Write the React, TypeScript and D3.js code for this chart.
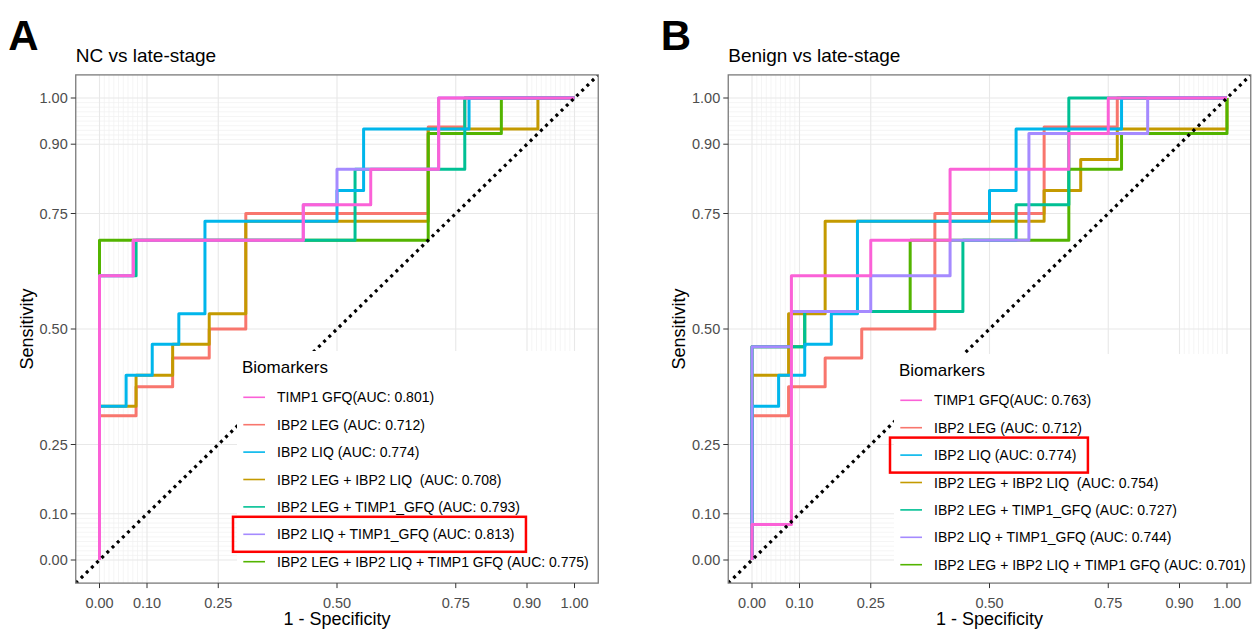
import React, { useEffect, useRef } from 'react';
import * as d3 from 'd3';

type Pt = [number, number];

// axis breaks shared by both panels
const tickValues = [0, 0.1, 0.25, 0.5, 0.75, 0.9, 1];
const tickLabels = ['0.00', '0.10', '0.25', '0.50', '0.75', '0.90', '1.00'];
const minorValues = [
  0.01, 0.02, 0.03, 0.04, 0.05, 0.06, 0.07, 0.08, 0.09,
  0.91, 0.92, 0.93, 0.94, 0.95, 0.96, 0.97, 0.98, 0.99,
];

// series keys in drawing order (alphabetical factor levels, ggplot hue palette)
const drawKeys = ['LEG', 'LEG_LIQ', 'LEG_LIQ_TIMP1', 'LEG_TIMP1', 'LIQ', 'LIQ_TIMP1', 'TIMP1'];
const drawColors = ['#F8766D', '#C49A00', '#53B400', '#00C094', '#00B6EB', '#A58AFF', '#FB61D7'];

// legend order and names
const legendKeys = ['TIMP1', 'LEG', 'LIQ', 'LEG_LIQ', 'LEG_TIMP1', 'LIQ_TIMP1', 'LEG_LIQ_TIMP1'];
const legendNames = [
  'TIMP1 GFQ',
  'IBP2 LEG ',
  'IBP2 LIQ ',
  'IBP2 LEG + IBP2 LIQ  ',
  'IBP2 LEG + TIMP1_GFQ ',
  'IBP2 LIQ + TIMP1_GFQ ',
  'IBP2 LEG + IBP2 LIQ + TIMP1 GFQ ',
];
const aucA = ['0.801', '0.712', '0.774', '0.708', '0.793', '0.813', '0.775'];
const aucB = ['0.763', '0.712', '0.774', '0.754', '0.727', '0.744', '0.701'];

// ROC curves, points are [1 - specificity, sensitivity]
// Panel A: NC vs late-stage
const rocA_TIMP1: Pt[] = [[0, 0], [0, 0.615], [0.071, 0.615], [0.071, 0.692], [0.429, 0.692], [0.429, 0.769], [0.571, 0.769], [0.571, 0.846], [0.714, 0.846], [0.714, 1], [1, 1]];
const rocA_LEG: Pt[] = [[0, 0], [0, 0.3125], [0.077, 0.3125], [0.077, 0.375], [0.154, 0.375], [0.154, 0.4375], [0.231, 0.4375], [0.231, 0.5], [0.308, 0.5], [0.308, 0.75], [0.692, 0.75], [0.692, 0.9375], [0.769, 0.9375], [0.769, 1], [1, 1]];
const rocA_LIQ: Pt[] = [[0, 0], [0, 0.333], [0.056, 0.333], [0.056, 0.4], [0.111, 0.4], [0.111, 0.467], [0.167, 0.467], [0.167, 0.533], [0.222, 0.533], [0.222, 0.733], [0.5, 0.733], [0.5, 0.8], [0.556, 0.8], [0.556, 0.933], [0.778, 0.933], [0.778, 1], [1, 1]];
const rocA_LEG_LIQ: Pt[] = [[0, 0], [0, 0.333], [0.077, 0.333], [0.077, 0.4], [0.154, 0.4], [0.154, 0.467], [0.231, 0.467], [0.231, 0.533], [0.308, 0.533], [0.308, 0.733], [0.692, 0.733], [0.692, 0.933], [0.923, 0.933], [0.923, 1], [1, 1]];
const rocA_LEG_TIMP1: Pt[] = [[0, 0], [0, 0.615], [0.077, 0.615], [0.077, 0.692], [0.538, 0.692], [0.538, 0.846], [0.769, 0.846], [0.769, 1], [1, 1]];
const rocA_LIQ_TIMP1: Pt[] = [[0, 0], [0, 0.615], [0.071, 0.615], [0.071, 0.692], [0.429, 0.692], [0.429, 0.769], [0.5, 0.769], [0.5, 0.846], [0.714, 0.846], [0.714, 1], [1, 1]];
const rocA_LEG_LIQ_TIMP1: Pt[] = [[0, 0], [0, 0.692], [0.692, 0.692], [0.692, 0.923], [0.846, 0.923], [0.846, 1], [1, 1]];

// Panel B: Benign vs late-stage
const rocB_TIMP1: Pt[] = [[0, 0], [0, 0.077], [0.083, 0.077], [0.083, 0.615], [0.25, 0.615], [0.25, 0.692], [0.417, 0.692], [0.417, 0.846], [0.667, 0.846], [0.667, 0.923], [0.75, 0.923], [0.75, 1], [1, 1]];
const rocB_LEG: Pt[] = [[0, 0], [0, 0.3125], [0.077, 0.3125], [0.077, 0.375], [0.154, 0.375], [0.154, 0.4375], [0.231, 0.4375], [0.231, 0.5], [0.385, 0.5], [0.385, 0.75], [0.615, 0.75], [0.615, 0.9375], [0.769, 0.9375], [0.769, 1], [1, 1]];
const rocB_LIQ: Pt[] = [[0, 0], [0, 0.333], [0.056, 0.333], [0.056, 0.4], [0.111, 0.4], [0.111, 0.467], [0.167, 0.467], [0.167, 0.533], [0.222, 0.533], [0.222, 0.733], [0.5, 0.733], [0.5, 0.8], [0.556, 0.8], [0.556, 0.933], [0.778, 0.933], [0.778, 1], [1, 1]];
const rocB_LEG_LIQ: Pt[] = [[0, 0], [0, 0.4], [0.077, 0.4], [0.077, 0.533], [0.154, 0.533], [0.154, 0.733], [0.615, 0.733], [0.615, 0.8], [0.692, 0.8], [0.692, 0.867], [0.769, 0.867], [0.769, 0.933], [1, 0.933], [1, 1]];
const rocB_LEG_TIMP1: Pt[] = [[0, 0], [0, 0.4615], [0.111, 0.4615], [0.111, 0.538], [0.444, 0.538], [0.444, 0.692], [0.556, 0.692], [0.556, 0.769], [0.667, 0.769], [0.667, 1], [1, 1]];
const rocB_LIQ_TIMP1: Pt[] = [[0, 0], [0, 0.4615], [0.083, 0.4615], [0.083, 0.538], [0.25, 0.538], [0.25, 0.615], [0.417, 0.615], [0.417, 0.692], [0.583, 0.692], [0.583, 0.923], [0.833, 0.923], [0.833, 1], [1, 1]];
const rocB_LEG_LIQ_TIMP1: Pt[] = [[0, 0], [0, 0.4615], [0.111, 0.4615], [0.111, 0.538], [0.333, 0.538], [0.333, 0.692], [0.667, 0.692], [0.667, 0.846], [0.778, 0.846], [0.778, 0.923], [1, 0.923], [1, 1]];

const panels = [
  {
    letter: 'A',
    title: 'NC vs late-stage',
    left: 75.75,
    legendLeft: 237,
    legendTop: 351,
    auc: aucA,
    highlight: 5,
    curves: {
      TIMP1: rocA_TIMP1, LEG: rocA_LEG, LIQ: rocA_LIQ, LEG_LIQ: rocA_LEG_LIQ,
      LEG_TIMP1: rocA_LEG_TIMP1, LIQ_TIMP1: rocA_LIQ_TIMP1, LEG_LIQ_TIMP1: rocA_LEG_LIQ_TIMP1,
    } as Record<string, Pt[]>,
  },
  {
    letter: 'B',
    title: 'Benign vs late-stage',
    left: 728.25,
    legendLeft: 894,
    legendTop: 354,
    auc: aucB,
    highlight: 2,
    curves: {
      TIMP1: rocB_TIMP1, LEG: rocB_LEG, LIQ: rocB_LIQ, LEG_LIQ: rocB_LEG_LIQ,
      LEG_TIMP1: rocB_LEG_TIMP1, LIQ_TIMP1: rocB_LIQ_TIMP1, LEG_LIQ_TIMP1: rocB_LEG_LIQ_TIMP1,
    } as Record<string, Pt[]>,
  },
];

const panelWidth = 522.5;
const panelTop = 74.9;
const panelBottom = 583.1;

function drawPanel(svg: any, p: typeof panels[number]) {
  const right = p.left + panelWidth;
  const x = d3.scaleLinear([-0.05, 1.05], [p.left, right]);
  const y = d3.scaleLinear([-0.05, 1.05], [panelBottom, panelTop]);
  const g = svg.append('g');

  const clipId = `clip-${p.letter}`;
  g.append('clipPath').attr('id', clipId)
    .append('rect')
    .attr('x', p.left).attr('y', panelTop)
    .attr('width', panelWidth).attr('height', panelBottom - panelTop);

  const plot = g.append('g').attr('clip-path', `url(#${clipId})`);

  // minor grid
  const minor = plot.append('g').attr('stroke', '#f0f0f0').attr('stroke-width', 0.7);
  minor.selectAll('line.vx').data(minorValues).join('line')
    .attr('class', 'vx')
    .attr('x1', (d: number) => x(d)).attr('x2', (d: number) => x(d))
    .attr('y1', panelTop).attr('y2', panelBottom);
  minor.selectAll('line.hy').data(minorValues).join('line')
    .attr('class', 'hy')
    .attr('y1', (d: number) => y(d)).attr('y2', (d: number) => y(d))
    .attr('x1', p.left).attr('x2', right);

  // major grid
  const major = plot.append('g').attr('stroke', '#e8e8e8').attr('stroke-width', 1.1);
  major.selectAll('line.v').data(tickValues).join('line')
    .attr('class', 'v')
    .attr('x1', (d: number) => x(d)).attr('x2', (d: number) => x(d))
    .attr('y1', panelTop).attr('y2', panelBottom);
  major.selectAll('line.h').data(tickValues).join('line')
    .attr('class', 'h')
    .attr('y1', (d: number) => y(d)).attr('y2', (d: number) => y(d))
    .attr('x1', p.left).attr('x2', right);

  // ROC curves
  const line = d3.line<Pt>().x((d) => x(d[0])).y((d) => y(d[1]));
  plot.append('g')
    .attr('fill', 'none')
    .attr('stroke-width', 3)
    .attr('stroke-linejoin', 'round')
    .selectAll('path')
    .data(drawKeys)
    .join('path')
    .attr('stroke', (_: string, i: number) => drawColors[i])
    .attr('d', (k: string) => line(p.curves[k]));

  // reference diagonal
  plot.append('line')
    .attr('x1', x(-0.05)).attr('y1', y(-0.05))
    .attr('x2', x(1.05)).attr('y2', y(1.05))
    .attr('stroke', '#000')
    .attr('stroke-width', 3.2)
    .attr('stroke-dasharray', '3 4.2');

  // legend
  const lg = g.append('g');
  lg.append('rect')
    .attr('x', p.legendLeft).attr('y', p.legendTop)
    .attr('width', right - p.legendLeft)
    .attr('height', panelBottom - p.legendTop)
    .attr('fill', '#fff');
  lg.append('text')
    .attr('x', p.legendLeft + 5)
    .attr('y', p.legendTop + 21.7)
    .attr('font-size', 17)
    .text('Biomarkers');
  legendKeys.forEach((k, i) => {
    const rowY = p.legendTop + 46.3 + i * 27.4;
    const color = drawColors[drawKeys.indexOf(k)];
    lg.append('line')
      .attr('x1', p.legendLeft + 6.3).attr('x2', p.legendLeft + 28)
      .attr('y1', rowY).attr('y2', rowY)
      .attr('stroke', color).attr('stroke-width', 1.6);
    const labelX = p.legendLeft + 40;
    const t = lg.append('text')
      .attr('x', labelX)
      .attr('y', rowY + 5)
      .attr('font-size', 14)
      .style('white-space', 'pre')
      .text(`${legendNames[i]}(AUC: ${p.auc[i]})`);
    if (i === p.highlight) {
      const len = (t.node() as SVGTextElement).getComputedTextLength();
      lg.append('rect')
        .attr('x', labelX - 44)
        .attr('y', rowY - 17.5)
        .attr('width', len + 44 + 11.5)
        .attr('height', 35)
        .attr('fill', 'none')
        .attr('stroke', '#ff0000')
        .attr('stroke-width', 2.5);
    }
  });

  // panel border
  g.append('rect')
    .attr('x', p.left).attr('y', panelTop)
    .attr('width', panelWidth).attr('height', panelBottom - panelTop)
    .attr('fill', 'none')
    .attr('stroke', '#7a7a7a')
    .attr('stroke-width', 1.3);

  // axes
  const ax = g.append('g').attr('stroke', '#333').attr('stroke-width', 1);
  ax.selectAll('line.tx').data(tickValues).join('line')
    .attr('class', 'tx')
    .attr('x1', (d: number) => x(d)).attr('x2', (d: number) => x(d))
    .attr('y1', panelBottom).attr('y2', panelBottom + 5);
  ax.selectAll('line.ty').data(tickValues).join('line')
    .attr('class', 'ty')
    .attr('y1', (d: number) => y(d)).attr('y2', (d: number) => y(d))
    .attr('x1', p.left - 5).attr('x2', p.left);

  g.append('g')
    .attr('fill', '#4d4d4d')
    .attr('font-size', 14.5)
    .attr('text-anchor', 'middle')
    .selectAll('text')
    .data(tickValues)
    .join('text')
    .attr('x', (d: number) => x(d))
    .attr('y', panelBottom + 25)
    .text((_: number, i: number) => tickLabels[i]);
  g.append('g')
    .attr('fill', '#4d4d4d')
    .attr('font-size', 14.5)
    .attr('text-anchor', 'end')
    .selectAll('text')
    .data(tickValues)
    .join('text')
    .attr('x', p.left - 8)
    .attr('y', (d: number) => y(d))
    .attr('dy', '0.36em')
    .text((_: number, i: number) => tickLabels[i]);

  g.append('text')
    .attr('x', (p.left + right) / 2)
    .attr('y', 625)
    .attr('text-anchor', 'middle')
    .attr('font-size', 18)
    .text('1 - Specificity');
  g.append('text')
    .attr('transform', `translate(${p.left - 43},${(panelTop + panelBottom) / 2}) rotate(-90)`)
    .attr('text-anchor', 'middle')
    .attr('font-size', 18)
    .text('Sensitivity');

  // titles
  g.append('text')
    .attr('x', p.left)
    .attr('y', 62)
    .attr('font-size', 19)
    .text(p.title);
  g.append('text')
    .attr('x', p.left - 67.5)
    .attr('y', 50)
    .attr('font-size', 42)
    .attr('font-weight', 'bold')
    .text(p.letter);
}

export default function App() {
  const ref = useRef<SVGSVGElement>(null);

  useEffect(() => {
    const svg = d3.select(ref.current);
    svg.selectAll('*').remove();
    panels.forEach((p) => drawPanel(svg, p));
  }, []);

  return (
    <div style={{ position: 'absolute', left: 0, top: 0 }}>
      <svg
        ref={ref}
        width={1253}
        height={630}
        style={{ display: 'block', background: '#fff', fontFamily: '"Liberation Sans", Arial, sans-serif' }}
      />
    </div>
  );
}
